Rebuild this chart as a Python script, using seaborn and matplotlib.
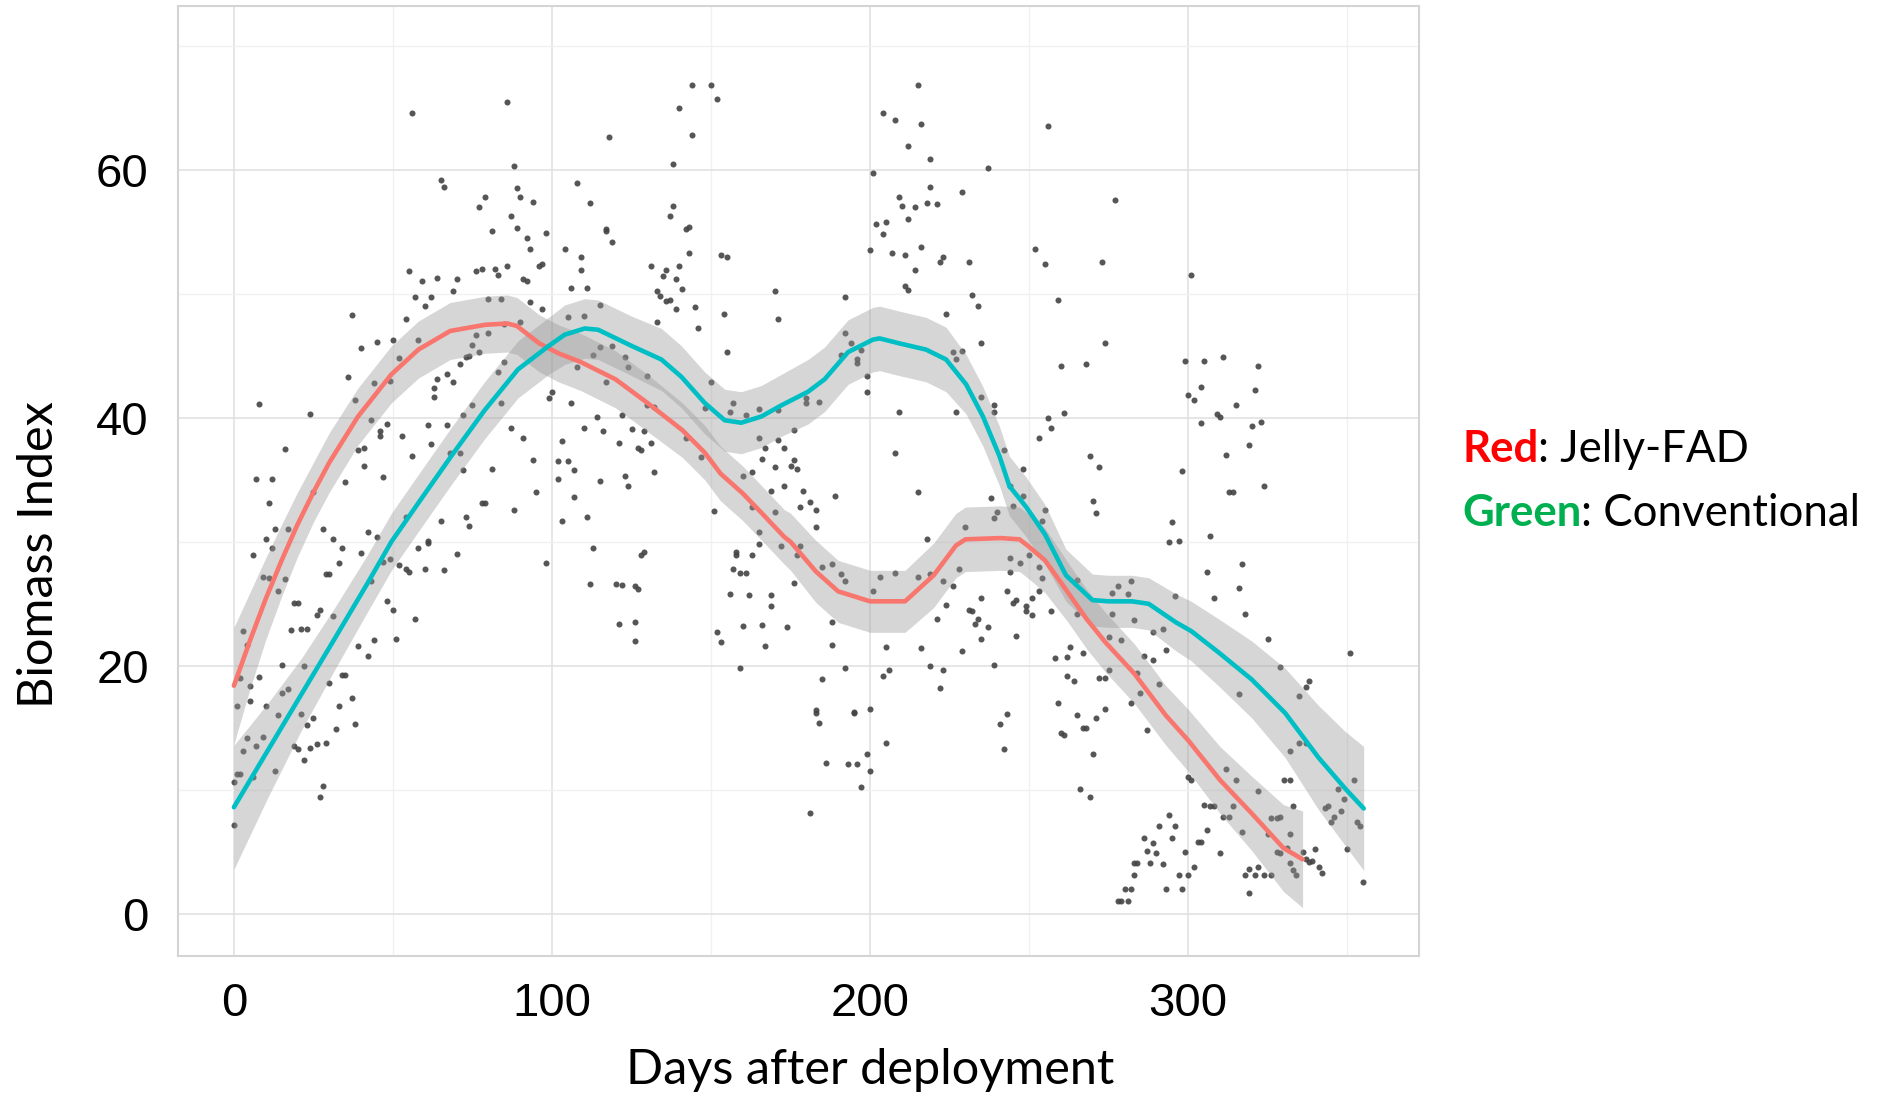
import matplotlib
matplotlib.use("Agg")
import matplotlib.pyplot as plt
import seaborn as sns
import numpy as np
import pandas as pd
from matplotlib import font_manager

# ---------------- data ----------------
# scatter points: days after deployment / biomass index (grouped by region of the plot)
days_a = [86,56,88,65,66,89,79,90,94,77,87,89,81,98,92,93,97,96,55,76,78,82,83,86,59,64,70,91,92,69,57,62,60,80,84,93,97,37,54,85,90,58,50,45,76,80,40,75,77,73,74,52,71,85,36,44,49,67,64,69,83,63,63,100,99,38,8,75,84,24,43,48,46,46,53,61,67,72,87,91,62,16,39,41,56,68,71,94,41,72,81,7,12,35,47,25,95,11,78,79,88,54,73,65,74,13,17,28,42,45,10,31,61]
bio_a = [65.5,64.6,60.3,59.2,58.6,58.5,57.8,57.8,57.4,57.0,56.3,55.3,55.1,54.9,54.5,53.6,52.4,52.2,51.8,51.8,52.0,52.0,51.5,52.2,51.0,51.3,51.2,51.2,51.0,50.2,49.7,49.7,49.0,49.6,49.6,49.3,48.8,48.3,48.0,47.6,47.7,46.3,46.3,46.1,46.7,46.8,45.6,45.9,45.3,44.9,45.0,44.8,44.3,44.5,43.3,42.8,43.0,43.5,43.1,42.9,43.7,42.4,41.7,42.1,41.6,41.4,41.1,41.0,41.2,40.3,39.8,39.5,38.9,38.5,38.5,39.4,39.4,40.2,39.2,38.4,37.9,37.5,37.4,37.6,36.9,37.2,37.2,36.6,36.1,35.8,35.9,35.1,35.1,34.8,35.2,34.0,34.0,33.1,33.1,33.1,32.6,32.0,32.0,31.7,31.3,31.0,31.0,31.0,30.8,30.4,30.2,30.2,30.1]

days_b = [12,6,34,40,58,61,70,98,33,47,49,52,54,55,60,66,29,30,9,11,16,43,14,19,20,48,50,57,27,26,31,3,18,21,23,4,39,44,51,42,15,22,2,8,34,35,5,30,15,17,37,1,5,10,33,14,21,23,25,32,38,4,9,3,7,19,20,24,26,29,22,1,2,0,13,6,28,27,0]
bio_b = [29.5,28.9,29.5,29.1,29.5,29.9,29.0,28.3,28.3,28.4,28.6,28.1,27.8,27.6,27.8,27.7,27.4,27.4,27.2,27.1,27.0,26.8,26.0,25.1,25.1,25.2,24.5,23.8,24.5,24.1,24.0,22.8,22.9,23.0,23.0,21.7,21.6,22.1,22.2,20.8,20.1,20.0,19.0,19.1,19.3,19.3,18.4,18.6,17.8,18.1,17.4,16.8,17.2,16.8,16.8,16.0,16.1,15.2,15.8,14.9,15.3,14.2,14.3,13.1,13.5,13.5,13.3,13.4,13.7,13.8,12.4,11.3,11.3,10.6,11.5,11.0,10.3,9.4,7.2]

days_c = [144,150,152,140,118,144,138,201,108,112,138,137,117,117,119,142,143,104,143,153,155,200,109,109,131,136,135,140,139,106,111,141,133,134,136,137,170,192,115,139,145,105,110,133,146,154,171,192,194,115,119,155,197,113,123,191,196,108,124,196,130,117,150,199,199,106,130,132,157,156,148,161,165,171,180,180,184,114,122,110,116,125,129,165,171,176,103,121,127,128,131,142,167,173,147,166,102,105,170,176,175,177,107,132,160,163,102,115,123,124,173,169,179,189,107,181,178,183,151,163,170,103,111,183,165]
bio_c = [66.8,66.8,65.7,65.0,62.6,62.8,60.5,59.7,58.9,57.3,57.1,56.3,55.2,55.1,54.2,55.2,55.4,53.6,53.3,53.1,53.0,53.5,53.0,51.9,52.2,51.9,51.4,52.2,51.2,50.5,50.5,50.4,50.2,49.8,49.4,49.5,50.2,49.7,49.1,48.8,48.9,48.1,48.2,47.7,47.2,48.4,48.0,46.8,46.0,45.7,45.8,45.3,45.5,45.1,44.9,45.1,44.7,44.1,44.1,44.4,43.4,42.9,42.9,43.4,42.1,41.2,41.0,40.9,41.2,40.5,40.8,40.2,40.7,40.6,41.6,41.2,41.3,40.1,40.2,39.2,38.9,39.1,38.9,38.4,38.2,39.0,38.1,38.0,37.6,37.4,38.0,38.4,37.6,37.6,36.8,36.7,36.5,36.5,36.0,36.6,36.1,35.9,35.8,35.6,35.3,35.6,35.1,34.9,35.3,34.5,34.5,34.1,34.1,33.7,33.6,33.2,32.8,32.6,32.5,32.8,32.4,31.7,32.0,31.2,30.8]

days_d = [113,128,129,158,158,163,165,172,177,178,112,120,122,126,127,157,159,161,176,185,188,191,192,156,162,169,169,121,126,126,152,153,160,166,174,188,188,167,159,192,185,183,183,184,195,195,200,199,186,193,196,200,197,181]
bio_d = [29.5,28.9,29.2,29.2,28.9,28.9,29.8,29.7,28.9,29.7,26.6,26.6,26.5,26.4,26.2,27.8,27.5,27.5,26.7,28.0,28.2,27.4,26.8,25.8,25.7,25.7,24.8,23.4,23.5,22.0,22.7,21.9,23.2,23.3,23.1,23.5,21.7,21.6,19.8,19.8,18.9,16.2,16.4,15.4,16.3,16.2,16.5,12.9,12.2,12.1,12.1,11.5,10.2,8.1]

days_e = [215,204,208,216,256,212,219,237,219,229,277,209,210,214,218,221,212,202,205,204,207,211,216,223,222,231,214,252,255,273,301,211,212,232,234,259,224,235,274,226,229,227,260,268,299,300,235,239,239,227,209,261,256,257,253,208,242,269,272,248,298,244,248,215,270,271,238,240,239,255,254,230,245,295,218,294,297]
bio_e = [66.8,64.6,64.0,63.7,63.5,61.9,60.9,60.1,58.6,58.2,57.6,57.8,57.1,57.0,57.3,57.2,56.0,55.6,55.8,54.8,53.3,53.1,53.8,53.0,52.6,52.6,51.9,53.6,52.4,52.6,51.5,50.6,50.3,49.9,49.0,49.5,48.4,46.0,46.0,45.3,45.4,44.7,44.2,44.3,44.6,41.8,41.7,41.0,40.5,40.5,40.5,40.4,40.0,39.2,38.4,37.2,37.4,36.9,36.0,35.9,35.7,34.5,33.7,34.0,33.3,32.3,33.5,32.4,31.9,32.6,31.7,31.2,32.9,31.6,30.2,30.0,30.1]

days_f = [203,208,215,219,201,223,226,228,244,247,250,244,253,254,243,253,251,246,245,249,249,251,235,224,231,232,234,233,237,235,257,221,246,205,216,229,265,276,278,281,282,296,276,283,289,292,265,275,279,293,263,267,258,262,286,289,219,223,239,204,206,222,262,264,272,274,275,284,291,285,259,282,274,243,241,265,271,267,268,260,261,287,205,242,270,300,266,269,294,291,296,286,295,289,287,290,299,283,284,288,292,283,297,300,280,282,293,298,278,279,281]
bio_f = [27.2,27.5,27.2,27.4,26.0,26.8,26.4,27.8,28.7,28.3,28.9,27.6,28.0,27.1,26.0,26.0,25.5,25.3,25.1,24.8,24.4,24.1,25.5,24.9,24.5,24.4,23.8,23.4,23.1,22.2,24.4,23.8,22.4,21.5,21.4,21.2,26.9,25.9,26.4,25.8,26.8,25.6,24.2,23.7,22.7,23.0,24.2,22.3,22.1,21.3,21.5,21.0,20.6,20.7,20.8,20.5,20.0,19.7,20.1,19.2,19.7,18.2,19.2,18.8,19.0,19.0,19.7,19.4,18.5,17.8,17.0,17.0,16.5,16.1,15.3,16.0,15.8,15.0,15.0,14.6,14.4,14.8,13.8,13.3,12.9,11.0,10.1,9.4,8.0,7.1,7.1,6.1,6.1,5.7,5.1,4.9,5.0,4.1,4.1,4.1,4.0,3.1,3.1,3.1,2.0,2.0,2.0,2.0,1.0,1.0,1.0]

days_g = [305,311,322,304,302,321,315,309,310,304,323,320,319,312,313,314,324,307,306,317,316,308,318,325,351,329,338,337,335,316,332,335,337,312,301,315,330,332,352,322,347,349,305,307,308,314,333,343,344,311,313,326,328,329,346,348,345,353,354,306,317,325,332,303,304,331,328,329,350,310,336,337,339,340,338,332,302,333,341,342,319,322,318,321,324,326,334,355,319]
bio_g = [44.6,44.9,44.2,42.5,41.4,42.2,41.0,40.3,40.1,39.6,39.7,39.3,37.8,37.0,34.0,34.0,34.5,30.5,27.6,28.2,26.3,25.5,24.2,22.2,21.0,19.9,18.8,18.3,17.6,17.7,13.1,13.8,13.8,11.7,10.8,10.8,10.8,10.8,10.8,9.9,10.1,9.3,8.8,8.7,8.7,8.7,8.7,8.5,8.7,7.8,7.8,7.7,7.7,7.8,7.8,8.3,7.4,7.4,7.1,6.8,6.6,6.4,6.4,5.8,5.8,5.3,5.0,4.9,5.2,4.9,5.0,4.4,4.3,5.2,4.2,4.1,3.8,3.5,3.8,3.3,3.6,3.8,3.1,3.1,3.1,3.1,3.1,2.6,1.7]

# loess fits
red_day = [0,5,10,15,20,25,30,39,49.5,58,68,79,86,89,96,102,109,120,130,141,148,153,160,166,173,175,183,190,200,211,220,227,230,241,247,250,255,262,268,274,283,293,300,310,320,330,336]
red_fit = [18.4,22.0,25.4,28.5,31.4,34.0,36.4,40.1,43.5,45.5,47.0,47.5,47.6,47.4,46.0,45.2,44.5,43.1,41.2,39.0,37.2,35.5,33.9,32.3,30.4,30.0,27.6,26.0,25.2,25.2,27.3,29.7,30.2,30.3,30.2,29.6,28.5,26.0,23.8,21.9,19.4,16.0,14.0,10.8,8.1,5.3,4.4]
red_se = [4.7,3.9,3.3,2.9,2.6,2.4,2.4,2.3,2.3,2.3,2.3,2.3,2.3,2.3,2.3,2.3,2.3,2.3,2.3,2.2,2.2,2.2,2.2,2.2,2.2,2.3,2.5,2.5,2.5,2.5,2.6,2.6,2.6,2.6,2.6,2.6,2.6,2.4,2.4,2.4,2.4,2.4,2.5,2.7,3.0,3.5,3.9]

teal_day = [0,10.7,21.2,31.7,42.1,49.5,57.9,68.3,78.8,89.3,99,104,110.3,114.5,125,134.4,140.7,148,154.3,159.5,165.8,172.1,180.5,185.7,193.1,200.9,203,209.2,217.6,223.9,230.2,235.5,240.7,243.8,249.1,255,261.6,269.9,275,282.4,287.6,296.2,301,309.5,320,330.5,341,349.4,355.2]
teal_fit = [8.6,13.2,17.7,22.2,26.7,30.0,33.1,36.9,40.6,43.9,45.8,46.7,47.2,47.1,45.8,44.7,43.3,41.2,39.8,39.6,40.1,41.0,42.1,43.1,45.3,46.3,46.4,46.0,45.5,44.7,42.7,40.1,36.9,34.5,32.8,30.6,27.3,25.3,25.2,25.2,25.0,23.5,22.8,21.1,18.9,16.2,12.6,10.1,8.5]
teal_se = [5.0,3.8,2.9,2.5,2.3,2.3,2.3,2.3,2.3,2.3,2.3,2.4,2.4,2.4,2.4,2.5,2.5,2.5,2.5,2.5,2.5,2.5,2.6,2.6,2.6,2.6,2.6,2.6,2.6,2.6,2.4,2.4,2.4,2.4,2.4,2.4,2.1,2.1,2.1,2.1,2.1,2.3,2.4,2.7,3.1,3.6,4.2,4.6,5.0]

x_ticks = [0, 100, 200, 300]
y_ticks = [0, 20, 40, 60]
x_minor = [50, 150, 250, 350]
y_minor = [10, 30, 50, 70]

# ---------------- tables ----------------
pts = pd.DataFrame({
    "day": days_a + days_b + days_c + days_d + days_e + days_f + days_g,
    "biomass": bio_a + bio_b + bio_c + bio_d + bio_e + bio_f + bio_g,
})
fits = pd.concat([
    pd.DataFrame({"day": red_day, "fit": red_fit, "se": red_se, "group": "Jelly-FAD"}),
    pd.DataFrame({"day": teal_day, "fit": teal_fit, "se": teal_se, "group": "Conventional"}),
], ignore_index=True)

# ---------------- style ----------------
sns.set_theme(style="white")
names = {f.name for f in font_manager.fontManager.ttflist}
tick_font = "Liberation Sans Narrow" if "Liberation Sans Narrow" in names else "Liberation Sans"
plt.rcParams["font.family"] = ["Lato", "DejaVu Sans"]
plt.rcParams["text.color"] = "black"

fig = plt.figure(figsize=(18.85, 10.96), dpi=100)
ax = fig.add_axes([0.0944, 0.1277, 0.6584, 0.8668])

sns.scatterplot(data=pts, x="day", y="biomass", ax=ax, color="#444444",
                s=19, linewidth=0, alpha=0.9, zorder=2, legend=False)

palette = {"Jelly-FAD": "#F8766D", "Conventional": "#00BFC4"}
for g in ["Jelly-FAD", "Conventional"]:
    d = fits[fits.group == g]
    ax.fill_between(d.day, d.fit - d.se, d.fit + d.se, color="#999999",
                    alpha=0.4, linewidth=0, zorder=3)
sns.lineplot(data=fits, x="day", y="fit", hue="group", palette=palette, ax=ax,
             linewidth=3.3, legend=False, sort=False, estimator=None, zorder=4)

ax.set_xlim(-17.6, 372.6)
ax.set_ylim(-3.4, 73.2)
ax.set_xticks(x_ticks)
ax.set_yticks(y_ticks)
ax.set_xticks(x_minor, minor=True)
ax.set_yticks(y_minor, minor=True)
ax.set_axisbelow(True)
ax.grid(which="major", color="#E2E2E2", linewidth=1.2)
ax.grid(which="minor", color="#F1F1F1", linewidth=1.0)
ax.tick_params(which="minor", length=0)
ax.tick_params(which="major", length=5, color="#D0D0D0", width=1.2, labelcolor="black")
ax.tick_params(axis="x", pad=14)
ax.tick_params(axis="y", pad=16)
for lab in ax.get_xticklabels() + ax.get_yticklabels():
    lab.set_family([tick_font, "DejaVu Sans"])
    lab.set_fontsize(34)
for sp in ax.spines.values():
    sp.set_visible(True)
    sp.set_color("#D4D4D4")
    sp.set_linewidth(1.5)
ax.set_xlabel("")
ax.set_ylabel("")

fig.text(0.0205, 0.4936, "Biomass Index", rotation=90, ha="center", va="center",
         fontsize=35, color="black")
fig.text(0.4615, 0.0237, "Days after deployment", ha="center", va="center",
         fontsize=35, color="black")

# annotation "legend"
fig.canvas.draw()
renderer = fig.canvas.get_renderer()
x0 = 1462 / 1885
for label, color, rest, ybase in [("Red", "#FF0000", ": Jelly-FAD", 1 - 462 / 1096),
                                  ("Green", "#00B050", ": Conventional", 1 - 526 / 1096)]:
    t = fig.text(x0, ybase, label, color=color, fontweight="bold", fontsize=31.5,
                 ha="left", va="baseline")
    bb = t.get_window_extent(renderer=renderer)
    fig.text(bb.x1 / fig.bbox.width, ybase, rest, color="black", fontsize=31.5,
             ha="left", va="baseline")

fig.savefig("out.png", dpi=100)
